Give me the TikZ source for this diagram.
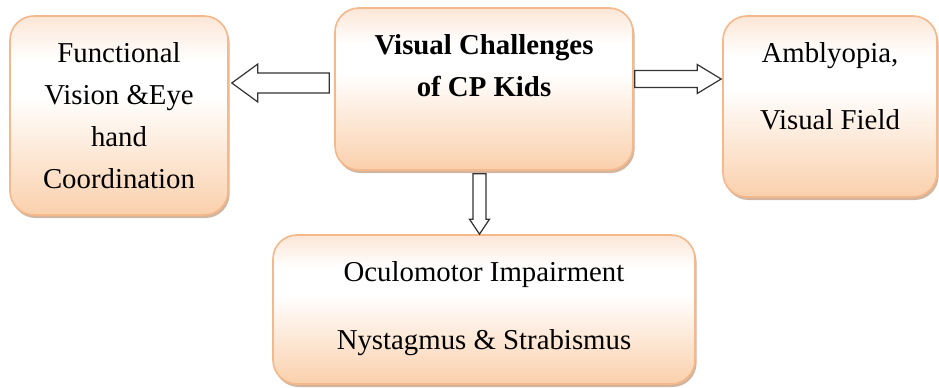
\documentclass[tikz,border=0pt]{standalone}
\usepackage{fontspec}
\setmainfont{Liberation Serif}
\usetikzlibrary{calc,shadows}

\definecolor{peachtop}{RGB}{252,230,214}
\definecolor{peachbot}{RGB}{250,208,172}
\definecolor{peachline}{RGB}{244,184,138}
\definecolor{shadowbrown}{RGB}{190,150,120}

% light band a little above the middle, peach at the bottom
\pgfdeclareverticalshading{peachfade}{100bp}{color(0bp)=(peachbot); color(25bp)=(peachbot); color(55bp)=(white); color(64bp)=(white); color(75bp)=(peachtop); color(100bp)=(peachtop)}

\tikzset{
  box/.style={draw=peachline, line width=0.8pt, rounded corners=12pt, shade, shading=peachfade,
    drop shadow={shadow xshift=0.8pt, shadow yshift=-1.5pt, fill=shadowbrown, opacity=0.7}},
  boxtext/.style={anchor=north, align=center, inner sep=0pt, font=\fontsize{14.4}{21}\selectfont},
  blockarr/.style={draw=black!80, line width=0.6pt, fill=white, line join=miter},
}

\begin{document}
\begin{tikzpicture}[x=0.5pt,y=0.5pt]
\useasboundingbox (0,0) rectangle (939,387);

% boxes
\node[box, minimum width=109pt, minimum height=99.5pt] (fv) at (119,271.5) {};
\node[box, minimum width=149pt, minimum height=81pt] (vc) at (484,298) {};
\node[box, minimum width=107pt, minimum height=90.5pt] (af) at (830,280.5) {};
\node[box, minimum width=211pt, minimum height=74.5pt] (om) at (484,77.5) {};

% texts, hung from the top of each box
\node[boxtext] (fvt) at ([yshift=-13.5pt]fv.north) {Functional\\Vision \&Eye\\hand\\Coordination};
\node[boxtext, font=\fontsize{14.4}{21}\selectfont\bfseries] (vct) at ([yshift=-13.5pt]vc.north) {Visual Challenges\\of CP Kids};
\node[boxtext] (aft) at ([yshift=-13.5pt]af.north) {Amblyopia,\\[12.5pt]Visual Field};
\node[boxtext] (omt) at ([yshift=-13.5pt]om.north) {Oculomotor Impairment\\[13pt]Nystagmus \& Strabismus};

% block arrows
\coordinate (la) at ([xshift=-2.5pt,yshift=3pt]vc.west);
\coordinate (lt) at ([xshift=1.5pt]fv.east |- la);
\draw[blockarr] ($(la)+(0,10)$) -- ($(lt)+(26,10)$) -- ($(lt)+(26,19)$) -- (lt)
  -- ($(lt)+(26,-19)$) -- ($(lt)+(26,-10)$) -- ($(la)+(0,-10)$) -- cycle;

\coordinate (ra) at ([xshift=0.5pt,yshift=5pt]vc.east);
\coordinate (rt) at ([xshift=-0.5pt]af.west |- ra);
\draw[blockarr] ($(ra)+(0,8.5)$) -- ($(rt)+(-24,8.5)$) -- ($(rt)+(-24,14.5)$) -- (rt)
  -- ($(rt)+(-24,-14.5)$) -- ($(rt)+(-24,-8.5)$) -- ($(ra)+(0,-8.5)$) -- cycle;

\coordinate (da) at ([xshift=-2.25pt,yshift=-1.5pt]vc.south);
\coordinate (dt) at (da |- om.north);
\draw[blockarr] ($(da)+(-6.5,0)$) -- ($(dt)+(-6.5,15)$) -- ($(dt)+(-10,15)$) -- (dt)
  -- ($(dt)+(10,15)$) -- ($(dt)+(6.5,15)$) -- ($(da)+(6.5,0)$) -- cycle;

\end{tikzpicture}
\end{document}
